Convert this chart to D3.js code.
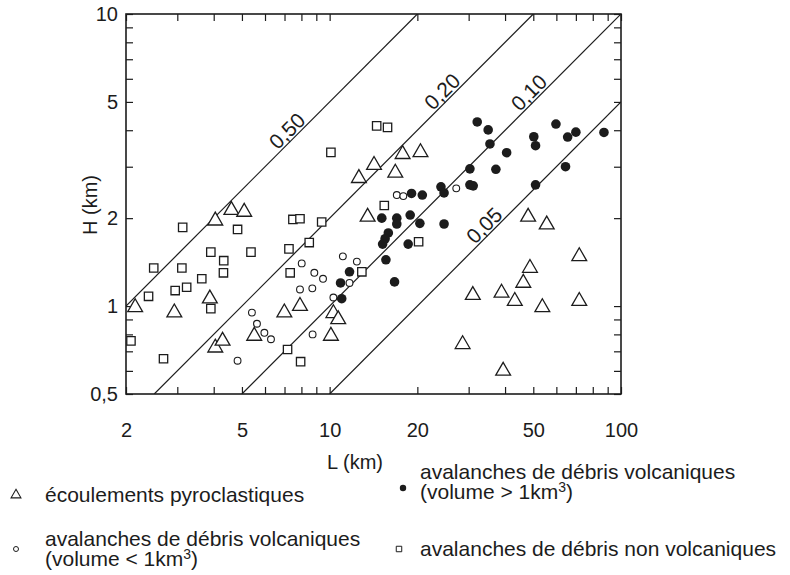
<!DOCTYPE html>
<html>
<head>
<meta charset="utf-8">
<title>H / L</title>
<script src="https://cdn.jsdelivr.net/npm/d3@7"></script>
<style>
  body { margin: 0; background: #fff; }
  svg text { font-family: "Liberation Sans", Arial, sans-serif; fill: #1c1c1c; }
</style>
</head>
<body>
<div id="chart"></div>
<script>
// [L km, H km]
var pyro = [[2.15,0.99],[2.93,0.95],[4.05,1.96],[4.6,2.13],[5.09,2.1],[3.88,1.06],[4.05,0.72],[4.29,0.76],
  [5.51,0.79],[6.99,0.95],[7.91,1.0],[10.3,0.945],[10.7,0.9],[10.1,0.79],[12.6,2.74],[14.2,3.04],[17.8,3.31],
  [20.5,3.36],[16.8,2.86],[13.5,2.02],[48,2.02],[55.6,1.9],[31,1.09],[38.9,1.11],[43.2,1.04],[46.2,1.2],
  [48.7,1.35],[53.7,0.99],[71.9,1.48],[71.9,1.04],[28.6,0.74],[39.4,0.6]];
var smallVolc = [[5.41,0.95],[5.63,0.87],[5.97,0.81],[6.29,0.77],[4.83,0.65],[17.0,2.4],[17.9,2.38],[27.2,2.53],
  [11.1,1.48],[12.4,1.42],[8.02,1.4],[8.86,1.3],[9.49,1.24],[7.91,1.14],[8.72,1.15],[11.7,1.2],[10.3,1.07],[8.74,0.8]];
var bigVolc = [[32.1,4.27],[35,4.01],[35.5,3.59],[40.5,3.35],[30.3,2.95],[37.2,2.94],[30.3,2.6],[31.1,2.58],
  [24.1,2.56],[24.7,2.44],[24.7,1.91],[50.2,3.8],[50.9,3.54],[59.8,4.2],[65.6,3.79],[70,3.94],[87.4,3.93],
  [64.5,3.0],[50.9,2.6],[19.1,2.43],[20.8,2.4],[15.1,2.0],[17.0,2.0],[17.0,1.91],[18.9,2.05],[20.4,1.92],
  [15.9,1.78],[15.5,1.7],[15.2,1.63],[18.6,1.63],[15.6,1.44],[16.7,1.21],[11.7,1.31],[10.9,1.2],[11.0,1.06]];
var nonVolc = [[3.13,1.86],[4.83,1.83],[7.48,1.98],[7.91,1.99],[3.91,1.53],[4.33,1.43],[5.37,1.53],[7.25,1.57],
  [2.49,1.35],[3.11,1.35],[3.64,1.24],[4.32,1.3],[7.32,1.3],[2.95,1.13],[3.23,1.16],[2.39,1.08],[3.91,0.98],
  [2.08,0.76],[2.69,0.66],[7.17,0.71],[14.5,4.14],[15.8,4.09],[10.1,3.36],[9.39,1.94],[15.4,2.21],[8.51,1.65],
  [20.2,1.66],[12.9,1.31],[7.95,0.645]];

var ratios = [0.5, 0.2, 0.1, 0.05];
var ratioLabels = ["0,50", "0,20", "0,10", "0,05"];
var ratioLabelAt = [7.54, 25.7, 51, 35.8];   // L where each label sits

var xTicks = [2,3,4,5,6,7,8,9,10,20,30,40,50,60,70,80,90,100];
var xTickLabels = [2,5,10,20,50,100];
var yTicks = [0.5,0.6,0.7,0.8,0.9,1,2,3,4,5,6,7,8,9,10];
var yTickLabels = [0.5,1,2,5,10];

var ink = "#1c1c1c";

var svg = d3.select("#chart").append("svg")
  .attr("width", 790)
  .attr("height", 575);

var x = d3.scaleLog().domain([2, 100]).range([126, 621]);
var y = d3.scaleLog().domain([0.5, 10]).range([394, 14]);

svg.append("clipPath").attr("id", "plot")
  .append("rect")
  .attr("x", 126).attr("y", 14)
  .attr("width", 495).attr("height", 380);

// H/L reference lines
var g = svg.append("g").attr("clip-path", "url(#plot)");
ratios.forEach(function(r, i) {
  var l0 = Math.max(2, 0.5 / r), l1 = Math.min(100, 10 / r);
  g.append("line")
    .attr("x1", x(l0)).attr("y1", y(l0 * r))
    .attr("x2", x(l1)).attr("y2", y(l1 * r))
    .attr("stroke", ink)
    .attr("stroke-width", 1.2);
  var lx = x(ratioLabelAt[i]) - 7, ly = y(ratioLabelAt[i] * r) - 7;
  svg.append("text")
    .attr("transform", "translate(" + lx + "," + ly + ") rotate(-45)")
    .attr("text-anchor", "middle")
    .attr("dy", "0.36em")
    .attr("font-size", 21)
    .text(ratioLabels[i]);
});

// axes, ticks pointing inwards on all four sides
function fmt(d) {
  return String(d).replace(".", ",");
}
svg.append("g").attr("transform", "translate(0,394)")
  .call(d3.axisBottom(x).tickValues(xTicks).tickSizeInner(-7).tickSizeOuter(0).tickPadding(29)
    .tickFormat(function(d) { return xTickLabels.indexOf(d) >= 0 ? fmt(d) : ""; }));
svg.append("g").attr("transform", "translate(0,14)")
  .call(d3.axisTop(x).tickValues(xTicks).tickSizeInner(-7).tickSizeOuter(0).tickFormat(""));
svg.append("g").attr("transform", "translate(126,0)")
  .call(d3.axisLeft(y).tickValues(yTicks).tickSizeInner(-7).tickSizeOuter(0).tickPadding(8)
    .tickFormat(function(d) { return yTickLabels.indexOf(d) >= 0 ? fmt(d) : ""; }));
svg.append("g").attr("transform", "translate(621,0)")
  .call(d3.axisRight(y).tickValues(yTicks).tickSizeInner(-7).tickSizeOuter(0).tickFormat(""));

svg.selectAll(".domain").remove();
svg.selectAll(".tick line").attr("stroke", ink).attr("stroke-width", 1.2);
svg.selectAll(".tick text")
  .attr("font-size", 20)
  .attr("font-family", "'Liberation Sans', Arial, sans-serif")
  .attr("fill", ink);

svg.append("rect")
  .attr("x", 126).attr("y", 14)
  .attr("width", 495).attr("height", 380)
  .attr("fill", "none")
  .attr("stroke", ink)
  .attr("stroke-width", 1.6);

svg.append("text")
  .attr("x", 355).attr("y", 469)
  .attr("text-anchor", "middle")
  .attr("font-size", 20)
  .text("L (km)");
svg.append("text")
  .attr("transform", "translate(97,205) rotate(-90)")
  .attr("text-anchor", "middle")
  .attr("font-size", 20)
  .text("H (km)");

// points
var tri = d3.symbol().type(d3.symbolTriangle).size(95);
var sq = d3.symbol().type(d3.symbolSquare).size(70);

svg.append("g").selectAll("path").data(pyro).enter().append("path")
  .attr("d", tri)
  .attr("transform", function(d) { return "translate(" + x(d[0]) + "," + y(d[1]) + ")"; })
  .attr("fill", "#fff")
  .attr("stroke", ink)
  .attr("stroke-width", 1.3);

svg.append("g").selectAll("path").data(nonVolc).enter().append("path")
  .attr("d", sq)
  .attr("transform", function(d) { return "translate(" + x(d[0]) + "," + y(d[1]) + ")"; })
  .attr("fill", "#fff")
  .attr("stroke", ink)
  .attr("stroke-width", 1.3);

svg.append("g").selectAll("circle").data(smallVolc).enter().append("circle")
  .attr("cx", function(d) { return x(d[0]); })
  .attr("cy", function(d) { return y(d[1]); })
  .attr("r", 3.4)
  .attr("fill", "#fff")
  .attr("stroke", ink)
  .attr("stroke-width", 1.1);

svg.append("g").selectAll("circle").data(bigVolc).enter().append("circle")
  .attr("cx", function(d) { return x(d[0]); })
  .attr("cy", function(d) { return y(d[1]); })
  .attr("r", 4.8)
  .attr("fill", ink);

// legend
var leg = svg.append("g").attr("font-size", 21);
leg.append("path")
  .attr("d", d3.symbol().type(d3.symbolTriangle).size(42))
  .attr("transform", "translate(16,495)")
  .attr("fill", "none").attr("stroke", ink).attr("stroke-width", 1.1);
leg.append("text").attr("x", 45).attr("y", 502)
  .text("écoulements pyroclastiques");

leg.append("circle").attr("cx", 16).attr("cy", 549).attr("r", 2.5)
  .attr("fill", "none").attr("stroke", ink).attr("stroke-width", 1);
leg.append("text").attr("x", 45).attr("y", 546)
  .text("avalanches de débris volcaniques");
var t1 = leg.append("text").attr("x", 45).attr("y", 566);
t1.append("tspan").text("(volume < 1km");
t1.append("tspan").attr("font-size", 14).attr("dy", -7).text("3");
t1.append("tspan").attr("dy", 7).text(")");

leg.append("circle").attr("cx", 403).attr("cy", 488).attr("r", 3.2).attr("fill", ink);
leg.append("text").attr("x", 420).attr("y", 479)
  .text("avalanches de débris volcaniques");
var t2 = leg.append("text").attr("x", 420).attr("y", 499);
t2.append("tspan").text("(volume > 1km");
t2.append("tspan").attr("font-size", 14).attr("dy", -7).text("3");
t2.append("tspan").attr("dy", 7).text(")");

leg.append("path")
  .attr("d", d3.symbol().type(d3.symbolSquare).size(30))
  .attr("transform", "translate(399,549)")
  .attr("fill", "none").attr("stroke", ink).attr("stroke-width", 1);
leg.append("text").attr("x", 420).attr("y", 556)
  .text("avalanches de débris non volcaniques");
</script>
</body>
</html>
